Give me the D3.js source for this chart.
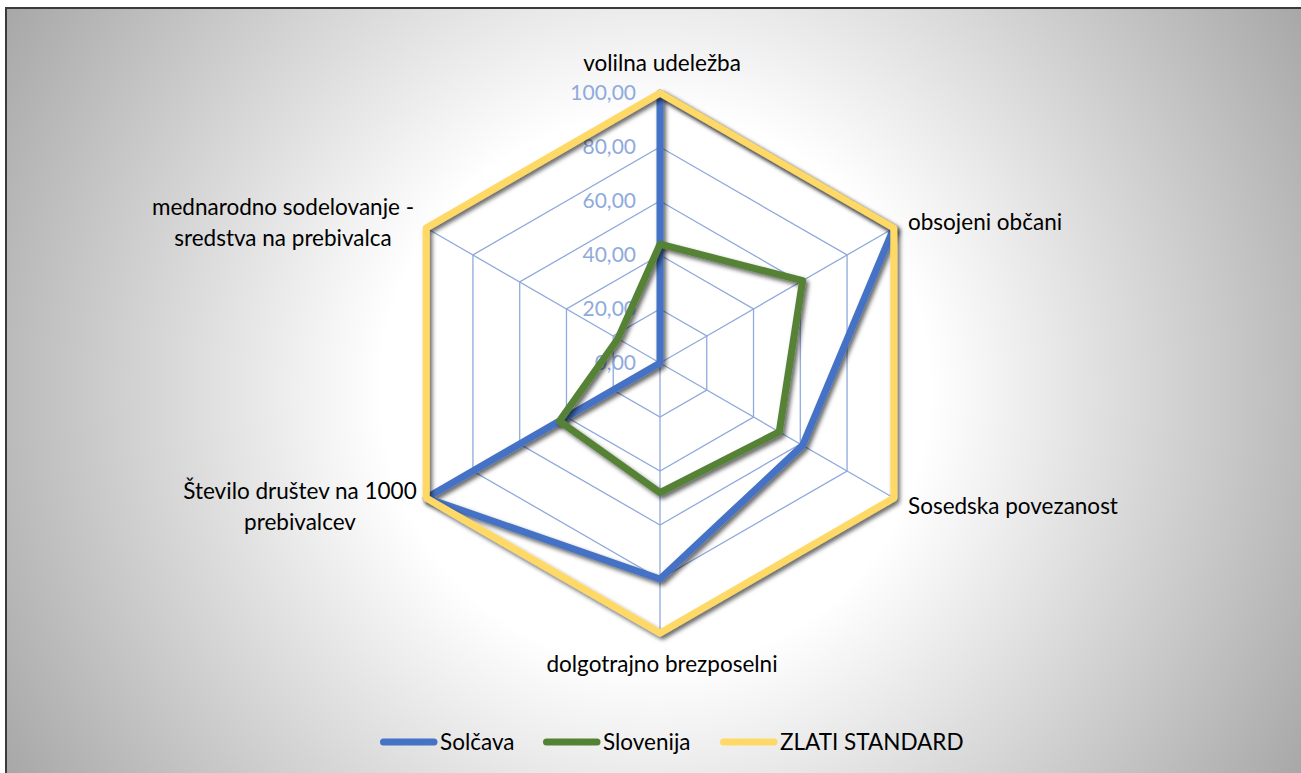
<!DOCTYPE html>
<html><head><meta charset="utf-8">
<script src="https://cdn.jsdelivr.net/npm/d3@7"></script>
<style>html,body{margin:0;padding:0;background:#fff;}svg{display:block;}</style>
</head><body>
<svg id="chart" width="1301" height="773"></svg>
<script>
const categories = ["volilna udeležba", "obsojeni občani", "Sosedska povezanost", "dolgotrajno brezposelni", "Število društev na 1000 prebivalcev", "mednarodno sodelovanje - sredstva na prebivalca"];
const solcava = [100, 100, 61, 80, 100, 0];
const slovenija = [44, 61, 51, 48, 43, 18];
const zlatiStandard = [100, 100, 100, 100, 100, 100];
const seriesNames = ["Solčava", "Slovenija", "ZLATI STANDARD"];
const tickValues = [0, 20, 40, 60, 80, 100];
const tickLabels = ["0,00", "20,00", "40,00", "60,00", "80,00", "100,00"];

const W = 1301, H = 773;
const cx = 660, cy = 363, R = 270;
const FONT = "Lato, 'Open Sans', sans-serif";
const colors = ["#4472C4", "#548235", "#FFD966"];
const svg = d3.select("#chart");
const defs = svg.append("defs");

const grad = defs.append("radialGradient").attr("id", "bg").attr("gradientUnits", "userSpaceOnUse")
  .attr("cx", 655).attr("cy", 390).attr("r", 760);
grad.append("stop").attr("offset", "0%").attr("stop-color", "#ffffff");
grad.append("stop").attr("offset", "36%").attr("stop-color", "#ffffff");
grad.append("stop").attr("offset", "100%").attr("stop-color", "#a6a6a6");

const sh = defs.append("filter").attr("id", "shadow").attr("x", "-20%").attr("y", "-20%").attr("width", "140%").attr("height", "140%");
sh.append("feDropShadow").attr("dx", 2.5).attr("dy", 3).attr("stdDeviation", 2.2).attr("flood-color", "#000").attr("flood-opacity", 0.6);

svg.append("rect").attr("width", W).attr("height", H).attr("fill", "#fff");
svg.append("rect").attr("x", 5).attr("y", 7).attr("width", W).attr("height", H).attr("fill", "url(#bg)");
svg.append("line").attr("x1", 5).attr("x2", W).attr("y1", 8).attr("y2", 8).attr("stroke", "#3a3a3a").attr("stroke-width", 2);
svg.append("line").attr("x1", 6).attr("x2", 6).attr("y1", 7).attr("y2", H).attr("stroke", "#3a3a3a").attr("stroke-width", 2);

const r = d3.scaleLinear().domain([0, 100]).range([0, R]);
const angle = d3.scaleLinear().domain([0, categories.length]).range([0, 2 * Math.PI]);
const g = svg.append("g").attr("transform", `translate(${cx},${cy})`);

// grid rings
const ringLine = d3.lineRadial().curve(d3.curveLinearClosed);
tickValues.filter(v => v > 0).forEach(v => {
  g.append("path").attr("d", ringLine(categories.map((c, i) => [angle(i), r(v)])))
    .attr("fill", "none").attr("stroke", "#8FAADC").attr("stroke-width", 1.3);
});
// spokes
categories.forEach((c, i) => {
  const a = angle(i);
  g.append("line").attr("x1", 0).attr("y1", 0)
    .attr("x2", r(100) * Math.sin(a)).attr("y2", -r(100) * Math.cos(a))
    .attr("stroke", "#8FAADC").attr("stroke-width", 1.3);
});
// tick labels
g.selectAll("text.tick").data(tickValues).join("text").attr("class", "tick")
  .attr("x", -24).attr("y", d => -r(d)).attr("dy", "0.33em")
  .attr("text-anchor", "end").attr("font-family", FONT).attr("font-size", 21)
  .attr("fill", "#8FAADC").text((d, i) => tickLabels[i]);

// series
const line = d3.lineRadial().curve(d3.curveLinearClosed);
[solcava, slovenija, zlatiStandard].forEach((vals, s) => {
  g.append("path").attr("d", line(vals.map((v, i) => [angle(i), r(v)])))
    .attr("fill", "none").attr("stroke", colors[s]).attr("stroke-width", 7)
    .attr("stroke-linejoin", "round").attr("filter", "url(#shadow)");
});

// category labels
const labelPos = [
  {x: 662, y: 63, anchor: "middle", lines: ["volilna udeležba"]},
  {x: 908, y: 222, anchor: "start", lines: ["obsojeni občani"]},
  {x: 908, y: 506, anchor: "start", lines: ["Sosedska povezanost"]},
  {x: 662, y: 664, anchor: "middle", lines: ["dolgotrajno brezposelni"]},
  {x: 300, y: 491, anchor: "middle", lines: ["Število društev na 1000", "prebivalcev"]},
  {x: 283, y: 207, anchor: "middle", lines: ["mednarodno sodelovanje -", "sredstva na prebivalca"]}
];
categories.forEach((c, i) => {
  const p = labelPos[i];
  const t = svg.append("text").attr("font-family", FONT).attr("font-size", 22.5).attr("fill", "#000")
    .attr("text-anchor", p.anchor);
  p.lines.forEach((ln, k) => {
    t.append("tspan").attr("x", p.x).attr("y", p.y + k * 31).attr("dy", "0.35em").text(ln);
  });
});

// legend
const legendX = [380, 543, 720];
seriesNames.forEach((n, s) => {
  const lg = svg.append("g").attr("transform", `translate(${legendX[s]},742)`);
  lg.append("line").attr("x1", 3.5).attr("x2", 54).attr("y1", 0).attr("y2", 0)
    .attr("stroke", colors[s]).attr("stroke-width", 7).attr("stroke-linecap", "round");
  lg.append("text").attr("x", 60).attr("y", 0).attr("dy", "0.35em")
    .attr("font-family", FONT).attr("font-size", 22.5).attr("fill", "#000").text(n);
});
</script>
</body></html>
